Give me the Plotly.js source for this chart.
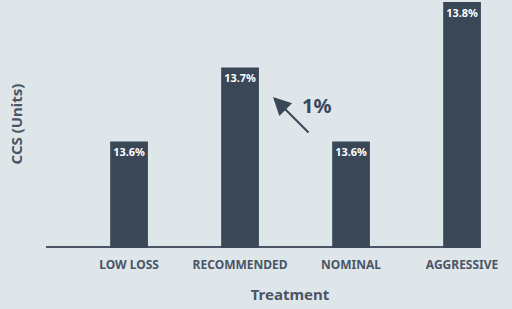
<!DOCTYPE html>
<html>
<head>
<meta charset="utf-8">
<script src="https://cdn.plot.ly/plotly-3.0.1.min.js"></script>
<style>html,body{margin:0;padding:0;background:#dfe6ea;}#chart{width:512px;height:309px;}</style>
</head>
<body>
<div id="chart"></div>
<script>
const categories = ['LOW LOSS', 'RECOMMENDED', 'NOMINAL', 'AGGRESSIVE'];
const ccsValues = [13.6, 13.706, 13.6, 13.8];
const changeLabel = '1%';

const bg = '#dfe6ea';
const barColor = '#394757';
const textColor = '#4a5566';
const fontFam = '"Noto Sans", "Open Sans", sans-serif';

const trace = {
  type: 'bar',
  x: categories,
  y: ccsValues,
  marker: {color: barColor, line: {width: 0}},
  width: 0.34,
  texttemplate: '<b>%{y:.1f}%</b>',
  textposition: 'inside',
  insidetextanchor: 'end',
  textangle: 0,
  insidetextfont: {color: '#ffffff', size: 11, family: fontFam},
  cliponaxis: false,
  hoverinfo: 'skip'
};

const layout = {
  width: 512, height: 309,
  paper_bgcolor: bg, plot_bgcolor: bg,
  margin: {l: 68, r: 0, t: 0, b: 61},
  showlegend: false,
  font: {family: fontFam, color: textColor},
  xaxis: {
    type: 'category',
    range: [-0.55, 3.45],
    showgrid: false, zeroline: false, showline: false,
    ticks: '',
    ticklabelstandoff: 8,
    tickvals: categories,
    ticktext: categories.map(c => '<b>' + c + '</b>'),
    tickfont: {size: 12, color: textColor, family: fontFam},
    title: {text: '<b>Treatment</b>', font: {size: 15, color: textColor, family: fontFam}, standoff: 17}
  },
  yaxis: {
    range: [13.447, 13.803],
    showgrid: false, zeroline: false, showline: false,
    showticklabels: false, ticks: '',
    title: {text: '<b>CCS (Units)</b>', font: {size: 15, color: textColor, family: fontFam}, standoff: 40}
  },
  shapes: [{
    type: 'line', xref: 'paper', yref: 'paper',
    x0: -0.0495, x1: 0.869, y0: 0.004, y1: 0.004,
    line: {color: '#4a5566', width: 2},
    layer: 'below'
  }],
  annotations: [
    {
      xref: 'paper', yref: 'paper', x: 0.4617, y: 0.609,
      ax: 37, ay: 37, axref: 'pixel', ayref: 'pixel',
      text: '', showarrow: true, arrowhead: 2, arrowsize: 1.8, arrowwidth: 2,
      arrowcolor: barColor
    },
    {
      xref: 'paper', yref: 'paper', x: 0.5606, y: 0.573,
      text: '<b>' + changeLabel + '</b>', showarrow: false,
      font: {size: 20, color: barColor, family: fontFam}
    }
  ]
};

Plotly.newPlot('chart', [trace], layout, {displayModeBar: false, staticPlot: true});
</script>
</body>
</html>
